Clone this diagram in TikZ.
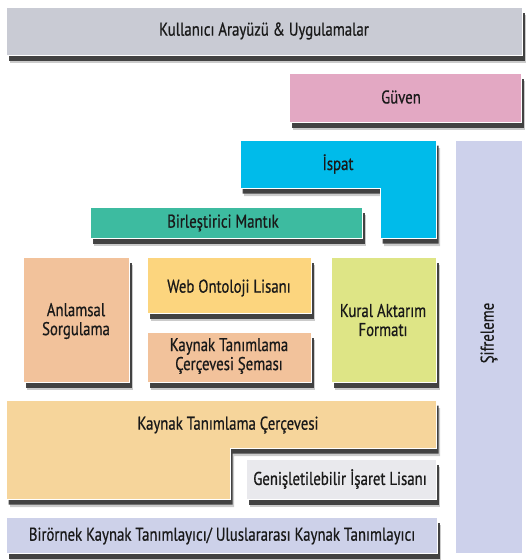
\documentclass[tikz,border=0pt]{standalone}
\usepackage{fontspec}
\setmainfont{PT Sans}[FakeStretch=0.8, FakeBold=0.6]
\definecolor{cTop}{HTML}{C9CBD4}
\definecolor{cTrust}{HTML}{E3A8C3}
\definecolor{cProof}{HTML}{00BBEA}
\definecolor{cLogic}{HTML}{3DBBA0}
\definecolor{cPeach}{HTML}{F2C29B}
\definecolor{cOwl}{HTML}{FCD57E}
\definecolor{cRif}{HTML}{DEE586}
\definecolor{cRdf}{HTML}{F6D59B}
\definecolor{cXml}{HTML}{E9E9ED}
\definecolor{cUri}{HTML}{CDD1E9}
\definecolor{cCrypt}{HTML}{CDD1EB}
\tikzset{
  x=1pt, y=-1pt,
  layer/.style={draw=white, line width=1pt},
  shA/.style={fill=black!45, fill opacity=0.45, xshift=4pt, yshift=-8pt},
  shB/.style={fill=black!80, fill opacity=0.9, xshift=2.5pt, yshift=-5.5pt},
  lbl/.style={font=\fontsize{18.5}{19}\selectfont, align=center, inner sep=0pt, text=black!90}
}
\begin{document}
\begin{tikzpicture}
\useasboundingbox (0,0) rectangle (528,560);
% shadows
\foreach \s in {shA,shB}{
  \path[\s] (6,7) rectangle (522,55);
  \path[\s] (289,73) rectangle (521,122);
  \path[\s] (240,140) -- (436,140) -- (436,238) -- (380,238) -- (380,188) -- (240,188) -- cycle;
  \path[\s] (90,207) rectangle (362,238);
  \path[\s] (23,257) rectangle (129,382);
  \path[\s] (147,257) rectangle (311,313);
  \path[\s] (147,332) rectangle (311,382);
  \path[\s] (331,257) rectangle (436,382);
  \path[\s] (6,400) -- (436,400) -- (436,448) -- (230,448) -- (230,499) -- (6,499) -- cycle;
  \path[\s] (246,459) rectangle (436,499);
  \path[\s] (6,517) rectangle (437,553);
}
% Sifreleme column
\path[draw=white, line width=1pt, fill=cCrypt] (455,140) rectangle (522,553);
\node[lbl, rotate=90] (crypt) at (489,333) {Şifreleme};
% top
\path[layer, fill=cTop] (6,7) rectangle (522,55);
\node[lbl] (ui) at (264,31) {Kullanıcı Arayüzü \& Uygulamalar};
% trust
\path[layer, fill=cTrust] (289,73) rectangle (521,122);
\node[lbl] (trust) at (401,97) {Güven};
% proof (L shape)
\path[layer, fill=cProof] (240,140) -- (436,140) -- (436,238) -- (380,238) -- (380,188) -- (240,188) -- cycle;
\node[lbl] (proof) at (338,164) {İspat};
% logic
\path[layer, fill=cLogic] (90,207) rectangle (362,238);
\node[lbl] (logic) at (223,223) {Birleştirici Mantık};
% query
\path[layer, fill=cPeach] (23,257) rectangle (129,382);
\node[lbl] (query) at (76,321) {Anlamsal\\Sorgulama};
% owl
\path[layer, fill=cOwl] (147,257) rectangle (311,313);
\node[lbl] (owl) at (229,288) {Web Ontoloji Lisanı};
% rdfs
\path[layer, fill=cPeach] (147,332) rectangle (311,382);
\node[lbl] (rdfs) at (229,356) {Kaynak Tanımlama\\Çerçevesi Şeması};
% rif
\path[layer, fill=cRif] (331,257) rectangle (436,382);
\node[lbl] (rif) at (383,320) {Kural Aktarım\\Formatı};
% rdf (L shape)
\path[layer, fill=cRdf] (6,400) -- (436,400) -- (436,448) -- (230,448) -- (230,499) -- (6,499) -- cycle;
\node[lbl] (rdf) at (228,425) {Kaynak Tanımlama Çerçevesi};
% xml
\path[layer, fill=cXml] (246,459) rectangle (436,499);
\node[lbl] (xml) at (340,479) {Genişletilebilir İşaret Lisanı};
% uri
\path[layer, fill=cUri] (6,517) rectangle (437,553);
\node[lbl] (uri) at (222,536) {Birörnek Kaynak Tanımlayıcı/ Uluslararası Kaynak Tanımlayıcı};
\end{tikzpicture}
\end{document}
